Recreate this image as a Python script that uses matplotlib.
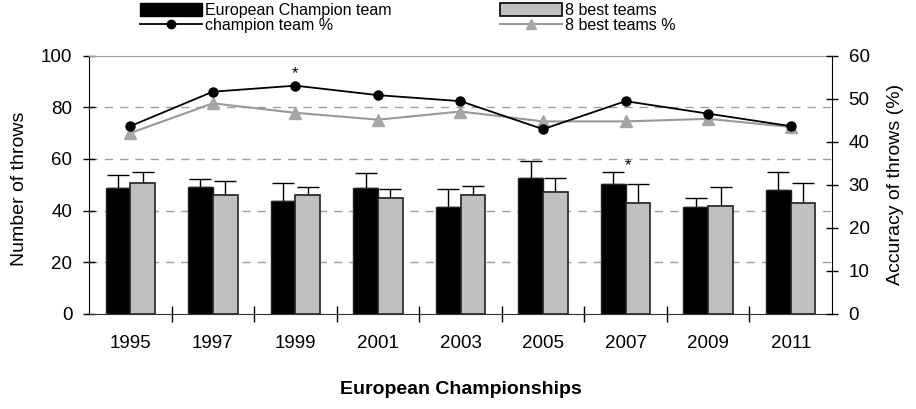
import numpy as np
import matplotlib
matplotlib.use("Agg")
import matplotlib.pyplot as plt
from matplotlib.patches import Patch
from matplotlib.lines import Line2D

plt.rcParams['font.family'] = ['Liberation Sans', 'DejaVu Sans']

# data
years = ['1995', '1997', '1999', '2001', '2003', '2005', '2007', '2009', '2011']
champ_throws = [48.6, 49.1, 43.8, 48.6, 41.5, 52.7, 50.3, 41.4, 48.0]
champ_sd = [5.2, 3.0, 7.0, 5.8, 7.0, 6.6, 4.7, 3.6, 6.9]
best8_throws = [50.8, 46.2, 46.2, 45.0, 46.2, 47.3, 43.1, 41.9, 43.1]
best8_sd = [4.2, 5.3, 2.9, 3.5, 3.3, 5.3, 7.1, 7.1, 7.6]
champ_acc = [43.6, 51.6, 53.0, 50.8, 49.4, 42.9, 49.4, 46.5, 43.6]
best8_acc = [42.0, 48.9, 46.7, 45.1, 47.0, 44.7, 44.7, 45.3, 43.4]

x = np.arange(len(years))
w = 0.3
gray_bar = '#c0c0c0'
gray_line = '#999999'
gray_mark = '#a6a6a6'

fig = plt.figure(figsize=(9.16, 4.09), dpi=100)
ax = fig.add_axes([89/916, 1 - 314/409, (832 - 89)/916, (314 - 55.5)/409])

# grid
for g in [20, 40, 60, 80]:
    ax.axhline(g, color='#a0a0a0', lw=1, ls=(0, (6, 5)), zorder=0)

ax.bar(x - w/2, champ_throws, w, color='black', edgecolor='#222222', lw=1, zorder=2)
ax.bar(x + w/2, best8_throws, w, color=gray_bar, edgecolor='#222222', lw=1.2, zorder=2)
ax.errorbar(x - w/2, champ_throws, yerr=[np.zeros(len(x)), champ_sd], fmt='none',
            ecolor='black', elinewidth=1, capsize=8, capthick=1, zorder=1)
ax.errorbar(x + w/2, best8_throws, yerr=[np.zeros(len(x)), best8_sd], fmt='none',
            ecolor='black', elinewidth=1, capsize=8, capthick=1, zorder=1)

ax.set_xlim(-0.5, len(years) - 0.5)
ax.set_ylim(0, 100)
ax.set_yticks(range(0, 101, 20))
ax.set_xticks(x)
ax.set_xticklabels(years)
ax.set_xticks(np.arange(0.5, len(years) - 1, 1), minor=True)
ax.tick_params(axis='x', which='major', length=0, pad=15, labelsize=13.5)
ax.tick_params(axis='x', which='minor', direction='inout', length=12, width=1)
ax.tick_params(axis='y', direction='inout', length=8, width=1, pad=8, labelsize=13.5)
ax.spines['top'].set_color('#a0a0a0')
ax.spines['bottom'].set_color('#333333')
ax.spines['right'].set_visible(False)
ax.set_ylabel('Number of throws', fontsize=14)
ax.yaxis.set_label_coords(-0.0817, 0.485)
ax.set_xlabel('European Championships', fontsize=14, fontweight='bold', labelpad=21)

# asterisk above 2007 bars
ax.text(6.03, 57.5, '*', ha='center', va='center', fontsize=12)

ax2 = ax.twinx()
ax2.plot(x, best8_acc, color=gray_line, lw=1.5, marker='^', ms=8,
         mfc=gray_mark, mec=gray_mark, zorder=3)
ax2.plot(x, champ_acc, color='black', lw=1.3, marker='o', ms=6.5, zorder=4)
ax2.set_ylim(0, 60)
ax2.set_yticks(range(0, 61, 10))
ax2.tick_params(axis='y', direction='inout', length=8, width=1, pad=8, labelsize=13.5)
ax2.spines['top'].set_visible(False)
ax2.spines['left'].set_visible(False)
ax2.spines['bottom'].set_visible(False)
ax2.set_ylabel('Accuracy of throws (%)', fontsize=14)
ax2.yaxis.set_label_coords(1.074, 0.5)
ax2.text(2, 55.8, '*', ha='center', va='center', fontsize=12)

# legend: two columns placed separately
leg_kw = dict(loc='upper left', frameon=False, fontsize=11.5, handlelength=3.9,
              handleheight=0.8, handletextpad=0.2, labelspacing=0.0,
              borderpad=0, borderaxespad=0)
h_left = [Patch(facecolor='black', edgecolor='black'),
          Line2D([], [], color='black', lw=1.3, marker='o', ms=6)]
h_right = [Patch(facecolor=gray_bar, edgecolor='black', lw=1.2),
           Line2D([], [], color=gray_line, lw=1.5, marker='^', ms=7, mfc=gray_mark, mec=gray_mark)]
fig.legend(h_left, ['European Champion team', 'champion team %'],
           bbox_to_anchor=(140/916, 1 - 3/409), **leg_kw)
fig.legend(h_right, ['8 best teams', '8 best teams %'],
           bbox_to_anchor=(500/916, 1 - 3/409), **leg_kw)

fig.savefig('out.png', dpi=100)
